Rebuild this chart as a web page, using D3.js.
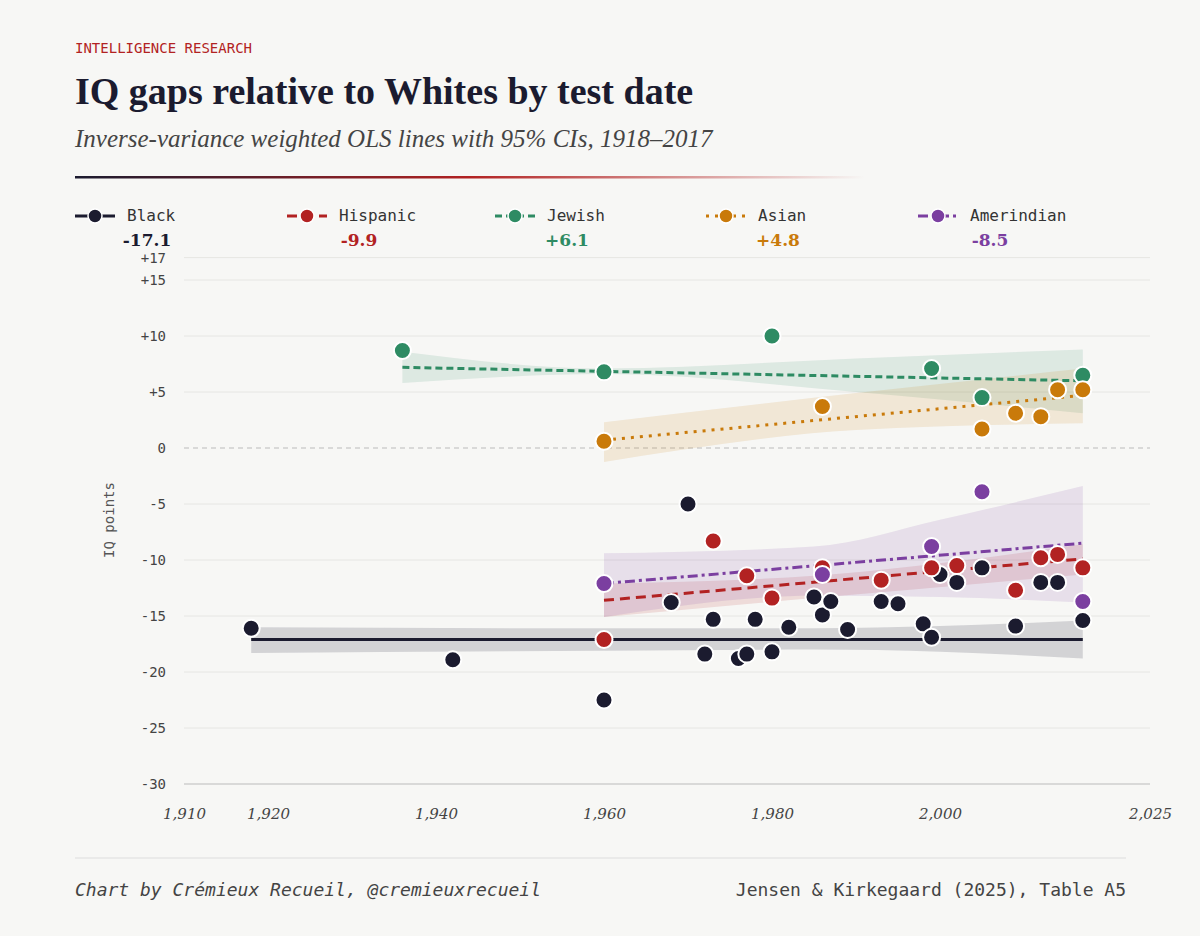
<!DOCTYPE html>
<html><head><meta charset="utf-8">
<script src="https://cdn.jsdelivr.net/npm/d3@7"></script>
<style>body{margin:0;background:#f7f7f5}</style>
</head><body><svg id="c" width="1200" height="936"></svg>
<script>
const seriesNames=["Black","Hispanic","Jewish","Asian","Amerindian"];
const colors=["#1b1b2f","#b22222","#2e8b63","#c97a0a","#7b3fa0"];
const dashes=["","10,6","7,4","3,6","10,4,3,4"];
const slopeLabels=["-17.1","-9.9","+6.1","+4.8","-8.5"];
const blackPts=[[1918,-16.1],[1942,-18.9],[1960,-22.5],[1968,-13.8],[1970,-5],[1972,-18.4],[1973,-15.3],[1976,-18.8],[1977,-18.4],[1978,-15.3],[1980,-18.2],[1982,-16],[1985,-13.3],[1986,-14.9],[1987,-13.7],[1989,-16.2],[1993,-13.7],[1995,-13.9],[1998,-15.7],[1999,-16.9],[2000,-11.3],[2002,-12],[2005,-10.7],[2009,-15.9],[2012,-12],[2014,-12],[2017,-15.4]];
const hispPts=[[1960,-17.1],[1973,-8.3],[1977,-11.4],[1980,-13.4],[1986,-10.7],[1993,-11.8],[1999,-10.7],[2002,-10.5],[2009,-12.7],[2012,-9.8],[2014,-9.5],[2017,-10.7]];
const jewPts=[[1936,8.7],[1960,6.8],[1980,10],[1999,7.1],[2005,4.5],[2017,6.5]];
const asianPts=[[1960,0.6],[1986,3.7],[2005,1.7],[2009,3.1],[2012,2.8],[2014,5.2],[2017,5.2]];
const amerPts=[[1960,-12.1],[1986,-11.3],[1999,-8.8],[2005,-3.9],[2017,-13.7]];
const fitLines=[[[1918,-17.1],[2017,-17.1]],[[1960,-13.6],[2017,-9.9]],[[1936,7.2],[2017,6.0]],[[1960,0.7],[2017,4.7]],[[1960,-12.1],[2017,-8.5]]];
// CI knots: [year, lo, hi]
const blackCI=[[1918,-18.3,-16.0],[1960,-18.1,-16.1],[1985,-18.0,-16.1],[2000,-18.2,-15.9],[2017,-18.8,-15.4]];
const hispCI=[[1960,-15.1,-12.1],[1985,-13.4,-11.4],[2017,-11.3,-8.6]];
const jewCI=[[1936,5.8,8.6],[1960,6.6,7.1],[1990,5.0,8.0],[2017,3.1,8.8]];
const asianCI=[[1960,-1.25,2.3],[1990,1.6,4.9],[2017,2.2,7.1]];
const amerCI=[[1960,-15.1,-9.4],[1985,-13.2,-8.8],[2000,-13.3,-6.4],[2017,-13.8,-3.4]];
const yTicks=[17,15,10,5,0,-5,-10,-15,-20,-25,-30];
const xTicks=[1910,1920,1940,1960,1980,2000,2025];

const pts=[blackPts,hispPts,jewPts,asianPts,amerPts];
const cis=[blackCI,hispCI,jewCI,asianCI,amerCI];
const svg=d3.select("#c");
const x=d3.scaleLinear().domain([1910,2025]).range([184,1150]);
const y=d3.scaleLinear().domain([-30,17]).range([784,257.6]);
const mono="'DejaVu Sans Mono',monospace", serif="'DejaVu Serif',Georgia,serif";

svg.append("text").attr("x",75).attr("y",53).attr("font-family",mono).attr("font-size",14).attr("fill","#b22222").text("INTELLIGENCE RESEARCH");
svg.append("text").attr("x",75).attr("y",104).attr("font-family","'Liberation Serif',serif").attr("font-weight","bold").attr("font-size",38).attr("fill","#1b1b2f").text("IQ gaps relative to Whites by test date");
svg.append("text").attr("x",75).attr("y",147).attr("font-family","'Liberation Serif',serif").attr("font-style","italic").attr("font-size",25).attr("fill","#444").text("Inverse-variance weighted OLS lines with 95% CIs, 1918–2017");
const gr=svg.append("defs").append("linearGradient").attr("id","g1");
gr.append("stop").attr("offset","0").attr("stop-color","#1b1b2f");
gr.append("stop").attr("offset","0.5").attr("stop-color","#b22222");
gr.append("stop").attr("offset","1").attr("stop-color","#b22222").attr("stop-opacity",0);
svg.append("rect").attr("x",75).attr("y",176).attr("width",790).attr("height",2.5).attr("fill","url(#g1)");

// grid
yTicks.forEach(t=>{
  svg.append("line").attr("x1",184).attr("x2",1150).attr("y1",y(t)).attr("y2",y(t))
    .attr("stroke",t===0?"#bbb":(t===-30?"#bbb":"#e6e6e3")).attr("stroke-width",1)
    .attr("stroke-dasharray",t===0?"5,4":null);
});
const ya=svg.append("g").attr("transform","translate(184,0)").call(d3.axisLeft(y).tickValues(yTicks).tickSize(0).tickPadding(18).tickFormat(d=>d>0?"+"+d:d));
ya.select(".domain").remove();
ya.selectAll("text").attr("font-family",mono).attr("font-size",14).attr("fill","#444");
const xa=svg.append("g").attr("transform","translate(0,784)").call(d3.axisBottom(x).tickValues(xTicks).tickSize(0).tickPadding(24).tickFormat(d3.format(",")));
xa.select(".domain").remove();
xa.selectAll("text").attr("font-family",serif).attr("font-style","italic").attr("font-size",15).attr("fill","#444");
svg.append("text").attr("transform","translate(114,520) rotate(-90)").attr("text-anchor","middle").attr("font-family",mono).attr("font-size",14).attr("fill","#555").text("IQ points");

// bands
const area=d3.area().x(d=>x(d[0])).y0(d=>y(d[1])).y1(d=>y(d[2])).curve(d3.curveMonotoneX);
cis.forEach((c,i)=>svg.append("path").attr("d",area(c)).attr("fill",colors[i]).attr("opacity",i===0?0.16:0.13));
const line=d3.line().x(d=>x(d[0])).y(d=>y(d[1]));
fitLines.forEach((l,i)=>svg.append("path").attr("d",line(l)).attr("fill","none").attr("stroke",colors[i]).attr("stroke-width",3).attr("stroke-dasharray",dashes[i]||null));
const order=[0,1,4,2,3];
order.forEach(i=>{
  svg.append("g").selectAll("circle").data(pts[i]).join("circle")
   .attr("cx",d=>x(d[0])).attr("cy",d=>y(d[1])).attr("r",8.5)
   .attr("fill",colors[i]).attr("stroke","#fff").attr("stroke-width",2);
});

// legend
const lx=[75,287,495,706,918];
seriesNames.forEach((n,i)=>{
  const g=svg.append("g").attr("transform",`translate(${lx[i]},216)`);
  g.append("line").attr("x1",0).attr("x2",40).attr("y1",0).attr("y2",0).attr("stroke",colors[i]).attr("stroke-width",3).attr("stroke-dasharray",dashes[i]||null);
  g.append("circle").attr("cx",20).attr("cy",0).attr("r",7).attr("fill",colors[i]).attr("stroke","#fff").attr("stroke-width",1.5);
  g.append("text").attr("x",52).attr("y",5).attr("font-family",mono).attr("font-size",16).attr("fill","#333").text(n);
  g.append("text").attr("x",72).attr("y",30).attr("text-anchor","middle").attr("font-family",serif).attr("font-weight","bold").attr("font-size",17).attr("fill",colors[i]).text(slopeLabels[i]);
});

svg.append("line").attr("x1",75).attr("x2",1126).attr("y1",858).attr("y2",858).attr("stroke","#ddd");
svg.append("text").attr("x",75).attr("y",896).attr("font-family",mono).attr("font-style","italic").attr("font-size",18).attr("fill","#444").text("Chart by Crémieux Recueil, @cremieuxrecueil");
svg.append("text").attr("x",1126).attr("y",896).attr("text-anchor","end").attr("font-family",mono).attr("font-size",18).attr("fill","#444").text("Jensen & Kirkegaard (2025), Table A5");
</script></body></html>
